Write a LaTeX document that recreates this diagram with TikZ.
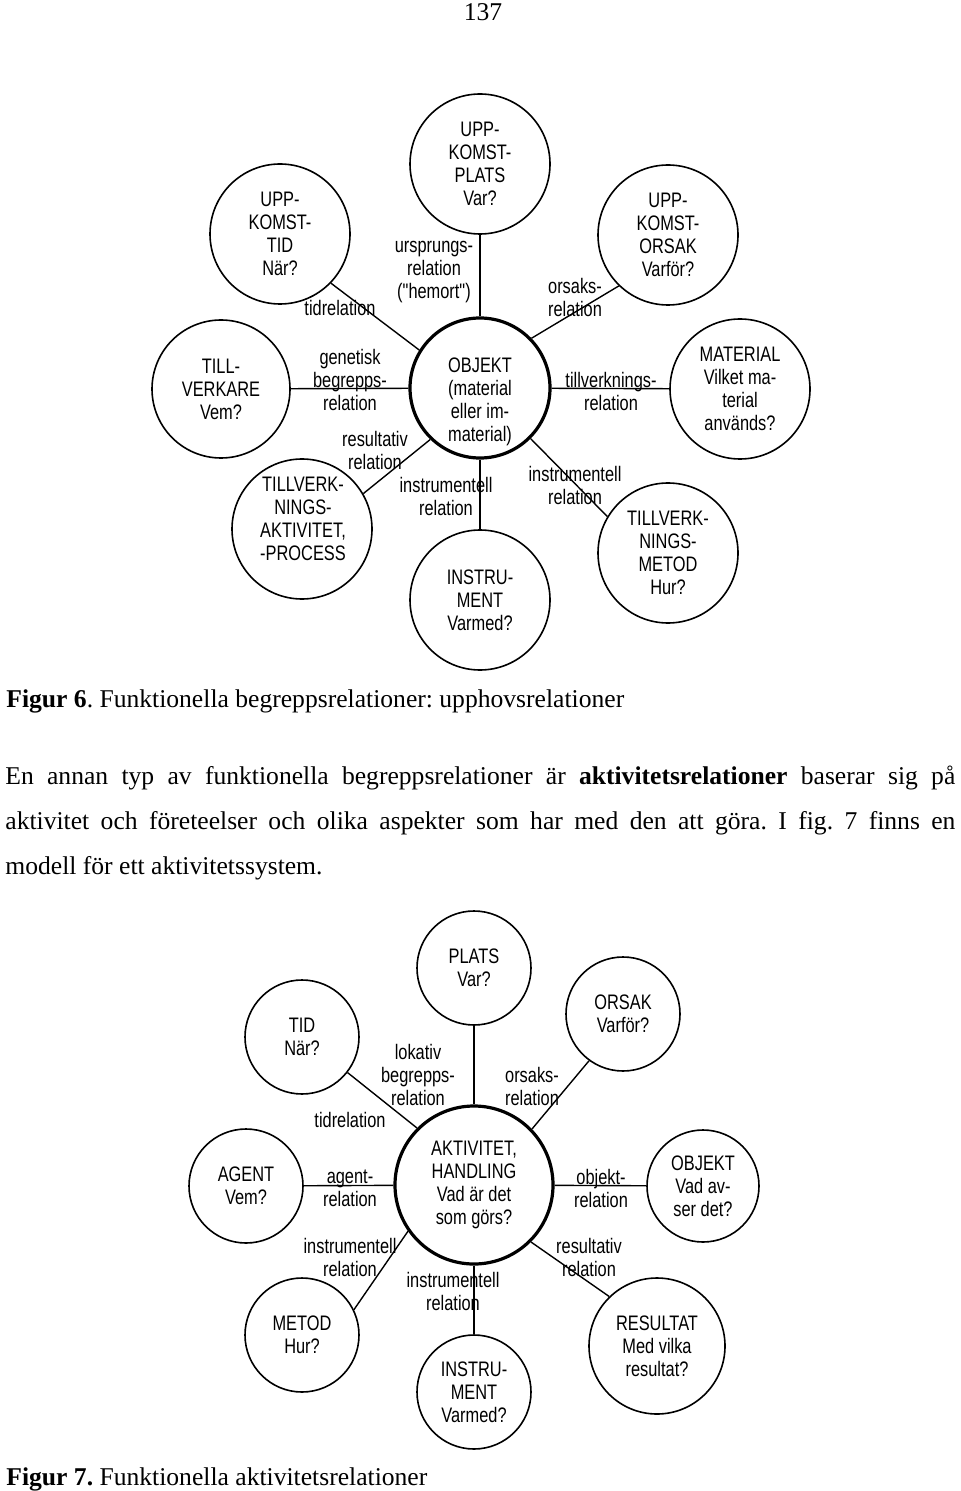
\documentclass[tikz,border=0pt]{standalone}
\usepackage{fontspec}
\setmainfont{Liberation Serif}
\newfontfamily\diagfont[FakeStretch=0.78]{Liberation Sans}
\newcommand{\relfont}{\diagfont\fontsize{10.5}{11.5}\selectfont}
\newcommand{\bodyfont}{\fontsize{12.8}{22.5}\selectfont}
\frenchspacing

\begin{document}
\begin{tikzpicture}[
  x=0.5pt,y=-0.5pt,
  conc/.style={circle,draw,line width=0.8pt,inner sep=0pt,align=center,font=\relfont},
  hub/.style={conc,line width=1.6pt},
  rel/.style={align=center,inner sep=0pt,font=\relfont},
  link/.style={line width=0.7pt}
]
  \useasboundingbox (0,0) rectangle (960,1491);
  \node[font=\bodyfont,anchor=base] (pagenr) at (483,21) {137};

  % Figur 6
  \node[conc,minimum size=70pt] (tid) at (280,234) {UPP-\\KOMST-\\TID\\När?};
  \node[conc,minimum size=70pt] (plats) at (480,164) {UPP-\\KOMST-\\PLATS\\Var?};
  \node[conc,minimum size=70pt] (orsak) at (668,235) {UPP-\\KOMST-\\ORSAK\\Varför?};
  \node[hub,minimum size=70pt] (obj) at (480,388) {};
  \node[rel] (objtxt) at (480,402) {OBJEKT\\(material\\eller im-\\material)};
  \node[conc,minimum size=69pt] (verkare) at (221,389) {TILL-\\VERKARE\\Vem?};
  \node[conc,minimum size=70pt] (aktiv) at (302,529) {};
  \node[rel] (aktivtxt) at (303,519) {TILLVERK-\\NINGS-\\AKTIVITET,\\-PROCESS};
  \node[conc,minimum size=70pt] (instr) at (480,600) {INSTRU-\\MENT\\Varmed?};
  \node[conc,minimum size=70pt] (mater) at (740,389) {MATERIAL\\Vilket ma-\\terial\\används?};
  \node[conc,minimum size=70pt] (metod) at (668,553) {TILLVERK-\\NINGS-\\METOD\\Hur?};

  \draw[link] (tid.316) -- (obj.148);
  \draw[link] (plats) -- (obj);
  \draw[link] (orsak.226) -- (obj.44);
  \draw[link] (verkare) -- (obj);
  \draw[link] (aktiv.30) -- (obj.226);
  \draw[link] (obj) -- (instr);
  \draw[link] (obj) -- (mater);
  \draw[link] (obj.315) -- (metod.149);

  \node[rel] (urspr) at (434,272) {ursprungs-\\relation\\("hemort")};
  \node[rel] (tidrel) at (340,308) {tidrelation};
  \node[rel] (orsakrel) at (575,297) {orsaks-\\relation};
  \node[rel] (genrel) at (350,380) {genetisk\\begrepps-\\relation};
  \node[rel] (resrel) at (375,450) {resultativ\\relation};
  \node[rel] (instrrel) at (446,496) {instrumentell\\relation};
  \node[rel] (tillvrel) at (611,391) {tillverknings-\\relation};
  \node[rel] (metodrel) at (575,485) {instrumentell\\relation};

  \node[font=\bodyfont,anchor=base west,inner sep=0pt] (cap6) at (6,707)
    {\textbf{Figur 6}. Funktionella begreppsrelationer: upphovsrelationer};

  \node[font=\bodyfont,anchor=north west,inner sep=0pt,text width=475pt,align=justify] (para) at (5,753)
    {\strut En annan typ av funktionella begreppsrelationer är \textbf{aktivitetsrelationer} baserar sig på\linebreak
     aktivitet och företeelser och olika aspekter som har med den att göra. I fig. 7 finns en\linebreak
     modell för ett aktivitetssystem.};

  % Figur 7
  \node[conc,minimum size=57pt] (tid7) at (302,1037) {TID\\När?};
  \node[conc,minimum size=57pt] (plats7) at (474,968) {PLATS\\Var?};
  \node[conc,minimum size=57pt] (orsak7) at (623,1014) {ORSAK\\Varför?};
  \node[conc,minimum size=57pt] (agent7) at (246,1186) {AGENT\\Vem?};
  \node[hub,minimum size=79pt] (akt7) at (474,1185) {AKTIVITET,\\HANDLING\\Vad är det\\som görs?};
  \node[conc,minimum size=56pt] (obj7) at (703,1186) {OBJEKT\\Vad av-\\ser det?};
  \node[conc,minimum size=57pt] (metod7) at (302,1335) {METOD\\Hur?};
  \node[conc,minimum size=57pt] (instr7) at (474,1392) {INSTRU-\\MENT\\Varmed?};
  \node[conc,minimum size=68pt] (res7) at (657,1346) {RESULTAT\\Med vilka\\resultat?};

  \draw[link] (tid7.322) -- (akt7.135);
  \draw[link] (plats7) -- (akt7);
  \draw[link] (orsak7.234) -- (akt7.44);
  \draw[link] (agent7) -- (akt7);
  \draw[link] (akt7) -- (obj7);
  \draw[link] (akt7.215) -- (metod7.26);
  \draw[link] (akt7) -- (instr7);
  \draw[link] (akt7.315) -- (res7.134);

  \node[rel] (lokrel7) at (418,1075) {lokativ\\begrepps-\\relation};
  \node[rel] (orsakrel7) at (532,1086) {orsaks-\\relation};
  \node[rel] (tidrel7) at (350,1120) {tidrelation};
  \node[rel] (agentrel7) at (350,1188) {agent-\\relation};
  \node[rel] (objrel7) at (601,1188) {objekt-\\relation};
  \node[rel] (metodrel7) at (350,1257) {instrumentell\\relation};
  \node[rel] (instrrel7) at (453,1291) {instrumentell\\relation};
  \node[rel] (resrel7) at (589,1257) {resultativ\\relation};

  \node[font=\bodyfont,anchor=base west,inner sep=0pt] (cap7) at (6,1485)
    {\textbf{Figur 7.} Funktionella aktivitetsrelationer};
\end{tikzpicture}
\end{document}
